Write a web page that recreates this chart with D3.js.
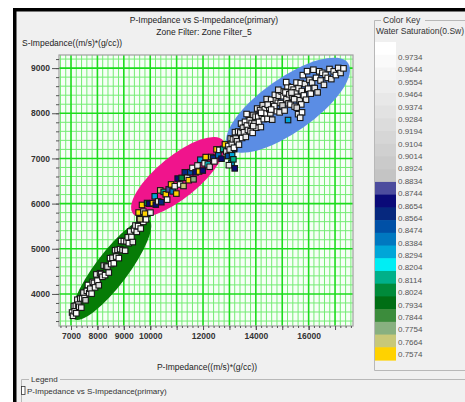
<!DOCTYPE html>
<html><head><meta charset="utf-8">
<script src="https://cdn.jsdelivr.net/npm/d3@7"></script>
<style>
html,body{margin:0;padding:0;background:#fff;}
svg{display:block;font-family:"Liberation Sans",Arial,sans-serif;}
</style></head><body>
<svg id="chart" width="465" height="402"></svg>
<script>
// ---- data ----
const chartTitle = "P-Impedance vs S-Impedance(primary)";
const zoneFilterText = "Zone Filter: Zone Filter_5";
const xAxisTitle = "P-Impedance((m/s)*(g/cc))";
const yAxisTitle = "S-Impedance((m/s)*(g/cc))";
const xTickValues = [7000, 8000, 9000, 10000, 12000, 14000, 16000];
const yTickValues = [4000, 5000, 6000, 7000, 8000, 9000];

const keyTitle = "Color Key";
const keyProperty = "Water Saturation(0.Sw)";
const keyValues = [0.9734, 0.9644, 0.9554, 0.9464, 0.9374, 0.9284, 0.9194, 0.9104, 0.9014,
  0.8924, 0.8834, 0.8744, 0.8654, 0.8564, 0.8474, 0.8384, 0.8294, 0.8204, 0.8114,
  0.8024, 0.7934, 0.7844, 0.7754, 0.7664, 0.7574];
const keyColors = ["#ffffff", "#fafafa", "#f4f4f4", "#eeeeee", "#e8e8e8", "#e2e2e2", "#dcdcdc",
  "#d6d6d6", "#d0d0d0", "#cacaca", "#c4c4c4", "#4c4c9e", "#0a0a78", "#06287e", "#0050a6",
  "#0078c0", "#00a6d8", "#00eef4", "#00b08a", "#008a3a", "#006e14", "#3c8c3c", "#88b080",
  "#c8c878", "#ffd200"];

const zoneNames = ["Zone 1", "Zone 2", "Zone 3"];
const zoneColors = ["#067c06", "#f0148c", "#5b8de4"];
// major-axis end points of each elliptical zone [P, S]
const zoneStart = [[7113, 3444], [9348, 5778], [12947, 7245]];
const zoneEnd = [[9954, 5645], [12757, 7400], [17492, 9111]];

// samples: [P-Impedance, S-Impedance, Sw]
const lowerTrendPoints = [
  [7040,3589,.96],[7075,3516,.94],[7110,3733,.97],[7140,3616,.95],[7180,3737,.92],[7200,3572,.97],
  [7240,3872,.95],[7280,3763,.96],[7310,3716,.93],[7350,3897,.97],[7390,3697,.95],[7420,3900,.96],
  [7470,4028,.94],[7510,3909,.97],[7550,3860,.90],[7600,4068,.96],[7640,4198,.97],[7690,4017,.95],
  [7730,4117,.93],[7780,4006,.96],[7820,4266,.97],[7870,4244,.94],[7910,4145,.96],[7960,4433,.95],
  [8000,4294,.97],[8050,4192,.92],[8100,4460,.96],[8140,4441,.95],[8190,4379,.97],[8240,4627,.94],
  [8290,4416,.96],[8330,4606,.97],[8380,4605,.91],[8430,4473,.95],[8480,4791,.97],[8520,4662,.96],
  [8570,4800,.93],[8620,4678,.97],[8670,4966,.95],[8710,4827,.96],[8760,4975,.94],[8810,4793,.97],
  [8860,4992,.95],[8900,5172,.96],[8950,4971,.92],[9000,5169,.97],[9050,4957,.95],[9100,5165,.96],
  [9150,5254,.94],[9190,5124,.97],[9240,5382,.95],[9290,5261,.96],[9340,5149,.93],[9390,5427,.97],
  [9440,5515,.96],[9490,5374,.95],[9540,5502,.97],[9590,5670,.94],[9640,5448,.96],[9690,5637,.89],
  [9740,5595,.97],[9790,5763,.95],[9840,5651,.96],[9880,5772,.94]
];
const middleTrendPoints = [
  [9560,5802,.7574],[9610,5654,.7664],[9690,5970,.7574],[9740,5822,.9374],[9800,5778,.7574],
  [9880,6013,.8024],[9960,5998,.8654],[10010,5800,.9554],[10100,6010,.7574],[10170,6161,.8294],
  [10210,5978,.8654],[10300,6048,.9284],[10380,6293,.7664],[10420,6031,.8564],[10510,6260,.8114],
  [10590,6206,.7574],[10640,6088,.9644],[10700,6314,.8744],[10790,6424,.7574],[10850,6270,.8384],
  [10930,6385,.9464],[10990,6222,.7574],[11040,6554,.8654],[11130,6423,.9734],[11190,6570,.8024],
  [11260,6390,.7664],[11310,6692,.8564],[11400,6572,.9194],[11460,6518,.7574],[11520,6695,.8474],
  [11600,6790,.9554],[11640,6538,.7754],[11720,6693,.8654],[11790,6844,.9374],[11850,6710,.7574],
  [11900,6972,.8294],[11990,6732,.8654],[12060,6892,.9644],[12100,7030,.7574],[12180,6865,.8204],
  [12250,6816,.9104],[12310,7032,.7664],[12380,7013,.8564],[12430,6935,.9554],[12510,7200,.7574],
  [12580,7071,.8384],[12620,7189,.9734],[12700,6994,.8654],[12760,7210,.8114],[12830,7311,.7574],
  [12880,7153,.9284],[12950,7054,.8474],[13030,7189,.8654],[13100,7070,.8294],[13180,7205,.8564],
  [13260,7330,.8384],[13080,6900,.8294],[13200,6780,.8654],[13150,6980,.8114],[12980,6850,.9464]
];
const upperTrendPoints = [
  [12960,7276,.96],[13010,7197,.93],[13050,7442,.97],[13090,7327,.95],[13130,7422,.91],[13170,7237,.97],
  [13210,7582,.94],[13240,7440,.96],[13290,7382,.92],[13330,7596,.97],[13360,7305,.95],[13410,7575,.93],
  [13440,7771,.96],[13480,7453,.97],[13510,7679,.90],[13550,7580,.95],[13590,7811,.97],[13620,7477,.94],
  [13660,7729,.96],[13700,7630,.93],[13730,7956,.97],[13770,7847,.95],[13800,7603,.96],[13840,7785,.92],
  [13880,7566,.97],[13910,7962,.94],[13950,7773,.96],[13990,7925,.95],[14020,7680,.97],[14050,8105,.93],
  [14090,7925,.96],[14120,7810,.97],[14160,8070,.94],[14190,7695,.95],[14230,7945,.97],[14260,8180,.91],
  [14300,7870,.96],[14340,8090,.95],[14370,7995,.97],[14410,8314,.93],[14440,7876,.96],[14480,8182,.97],
  [14510,8094,.94],[14550,8000,.95],[14580,8302,.97],[14620,7858,.92],[14650,8200,.96],[14690,8096,.97],
  [14720,8408,.95],[14760,8284,.93],[14790,8046,.96],[14830,8232,.97],[14870,8388,.94],[14900,8020,.95],
  [14940,8226,.97],[14980,8482,.96],[15010,8173,.90],[15050,8377,.97],[15090,8060,.95],[15120,8460,.96],
  [15160,8313,.93],[15200,8597,.97],[15240,8220,.94],[15270,8420,.96],[15310,8193,.97],[15350,8577,.95],
  [15390,8360,.92],[15430,8523,.97],[15470,8147,.96],[15500,8467,.95],[15540,8680,.97],[15580,8363,.94],
  [15620,8556,.96],[15660,8288,.93],[15700,8670,.97],[15740,8492,.95],[15780,8844,.96],[15820,8396,.97],
  [15860,8648,.94],[15900,8300,.95],[15940,8932,.97],[15980,8544,.96],[16030,8739,.93],[16080,8434,.97],
  [16130,8679,.95],[16180,8964,.96],[16230,8559,.94],[16280,8784,.97],[16340,8462,.92],[16400,8930,.96],
  [16450,8725,.95],[16520,8895,.97],[16580,8629,.94],[16640,8854,.96],[16720,8783,.97],[16790,8980,.95],
  [16860,8756,.93],[16950,8928,.96],[17030,8846,.97],[17120,9004,.95],[17210,8892,.94],[17320,8994,.96],
  [14200,8010,.97],[14450,8190,.95],[14700,8160,.96],[14850,8520,.93],[15150,8690,.97],[15450,8310,.95],
  [13650,7983,.96],[15350,8457,.94],[14580,8082,.97],[13900,7716,.95],[15720,8196,.96],[15550,8123,.91],
  [15600,7980,.93],[15750,8020,.97],[15680,7900,.95],[15220,7850,.8294]
];
const legendTitle = "Legend";
const legendEntry = "P-Impedance vs S-Impedance(primary)";

// ---- drawing ----
const svg = d3.select("#chart");
const plot = { left: 59, right: 353, top: 55, bottom: 326 };
const x = d3.scaleLinear().domain([6545, 17680]).range([plot.left, plot.right]);
const y = d3.scaleLinear().domain([3290, 9290]).range([plot.bottom, plot.top]);

// window frame
svg.append("rect").attr("x", 0).attr("y", 0).attr("width", 465).attr("height", 402).attr("fill", "#ffffff");
svg.append("rect").attr("x", 15).attr("y", 11).attr("width", 450).attr("height", 391).attr("fill", "#f0f0f0");
svg.append("rect").attr("x", 13).attr("y", 8).attr("width", 452).attr("height", 3.5).attr("fill", "#000");
svg.append("rect").attr("x", 13).attr("y", 8).attr("width", 3.5).attr("height", 394).attr("fill", "#000");

// titles
svg.append("text").attr("x", 204).attr("y", 23).attr("text-anchor", "middle")
  .attr("font-size", 8.5).attr("fill", "#222").text(chartTitle);
svg.append("text").attr("x", 204).attr("y", 35).attr("text-anchor", "middle")
  .attr("font-size", 8.5).attr("fill", "#222").text(zoneFilterText);
svg.append("text").attr("x", 22).attr("y", 46)
  .attr("font-size", 8.5).attr("fill", "#222").text(yAxisTitle);
svg.append("text").attr("x", 207).attr("y", 370).attr("text-anchor", "middle")
  .attr("font-size", 8.5).attr("fill", "#222").text(xAxisTitle);

// plot background and grid
svg.append("rect").attr("x", plot.left).attr("y", plot.top)
  .attr("width", plot.right - plot.left).attr("height", plot.bottom - plot.top).attr("fill", "#f6fff6");

const clip = svg.append("clipPath").attr("id", "plotClip");
clip.append("rect").attr("x", plot.left).attr("y", plot.top)
  .attr("width", plot.right - plot.left).attr("height", plot.bottom - plot.top);
const inner = svg.append("g").attr("clip-path", "url(#plotClip)");

const minorX = d3.range(6600, 17700, 200).filter(v => v % 1000 !== 0);
const minorY = d3.range(3400, 9300, 200).filter(v => v % 1000 !== 0);
const majorX = d3.range(7000, 17001, 1000);
const majorY = d3.range(4000, 9001, 1000);

inner.selectAll("line.minx").data(minorX).join("line").attr("class", "minx")
  .attr("x1", d => x(d)).attr("x2", d => x(d)).attr("y1", plot.top).attr("y2", plot.bottom)
  .attr("stroke", "#74ec74").attr("stroke-width", 1);
inner.selectAll("line.miny").data(minorY).join("line").attr("class", "miny")
  .attr("y1", d => y(d)).attr("y2", d => y(d)).attr("x1", plot.left).attr("x2", plot.right)
  .attr("stroke", "#74ec74").attr("stroke-width", 1);
inner.selectAll("line.majx").data(majorX).join("line").attr("class", "majx")
  .attr("x1", d => x(d)).attr("x2", d => x(d)).attr("y1", plot.top).attr("y2", plot.bottom)
  .attr("stroke", "#1bdc1b").attr("stroke-width", 1.6);
inner.selectAll("line.majy").data(majorY).join("line").attr("class", "majy")
  .attr("y1", d => y(d)).attr("y2", d => y(d)).attr("x1", plot.left).attr("x2", plot.right)
  .attr("stroke", "#1bdc1b").attr("stroke-width", 1.6);

// elliptical zones
const zoneHalfWidth = [16.5, 21, 27];
const zones = zoneNames.map((name, i) => {
  const x1 = x(zoneStart[i][0]), y1 = y(zoneStart[i][1]);
  const x2 = x(zoneEnd[i][0]), y2 = y(zoneEnd[i][1]);
  return {
    name, color: zoneColors[i],
    cx: (x1 + x2) / 2, cy: (y1 + y2) / 2,
    rx: Math.hypot(x2 - x1, y2 - y1) / 2, ry: zoneHalfWidth[i],
    angle: Math.atan2(y2 - y1, x2 - x1) * 180 / Math.PI
  };
});
inner.selectAll("ellipse.zone").data(zones).join("ellipse").attr("class", "zone")
  .attr("cx", d => d.cx).attr("cy", d => d.cy).attr("rx", d => d.rx).attr("ry", d => d.ry)
  .attr("transform", d => `rotate(${d.angle} ${d.cx} ${d.cy})`)
  .attr("fill", d => d.color);

// samples coloured by water saturation
const swColor = d3.scaleQuantize().domain([0.7529, 0.9779]).range(keyColors.slice().reverse());
const allPoints = lowerTrendPoints.concat(middleTrendPoints, upperTrendPoints);
const sq = 5.5;
inner.selectAll("rect.pt").data(allPoints).join("rect").attr("class", "pt")
  .attr("x", d => x(d[0]) - sq / 2).attr("y", d => y(d[1]) - sq / 2)
  .attr("width", sq).attr("height", sq)
  .attr("fill", d => swColor(d[2])).attr("stroke", "#161616").attr("stroke-width", 1.1);

// plot border
svg.append("rect").attr("x", plot.left).attr("y", plot.top)
  .attr("width", plot.right - plot.left).attr("height", plot.bottom - plot.top)
  .attr("fill", "none").attr("stroke", "#a0a0a0").attr("stroke-width", 1.2);

// axes
const yMinor = d3.range(3400, 9300, 200);
const gyMinor = svg.append("g").attr("transform", `translate(${plot.left},0)`)
  .call(d3.axisLeft(y).tickValues(yMinor).tickSize(3).tickFormat(""));
const gy = svg.append("g").attr("transform", `translate(${plot.left},0)`)
  .call(d3.axisLeft(y).tickValues(yTickValues).tickSize(7).tickPadding(2).tickFormat(d3.format("d")));
const xMinor = d3.range(6600, 17700, 200);
const gxMinor = svg.append("g").attr("transform", `translate(0,${plot.bottom})`)
  .call(d3.axisBottom(x).tickValues(xMinor).tickSize(2).tickFormat(""));
const gxMajor = svg.append("g").attr("transform", `translate(0,${plot.bottom})`)
  .call(d3.axisBottom(x).tickValues(majorX).tickSize(4).tickFormat(""));
const gx = svg.append("g").attr("transform", `translate(0,${plot.bottom})`)
  .call(d3.axisBottom(x).tickValues(xTickValues).tickSize(4).tickPadding(3).tickFormat(d3.format("d")));
[gyMinor, gy, gxMinor, gxMajor, gx].forEach(g => {
  g.select(".domain").remove();
  g.selectAll(".tick line").attr("stroke", "#555");
  g.selectAll(".tick text").attr("font-family", "Liberation Sans, Arial, sans-serif")
    .attr("font-size", 8.5).attr("font-weight", "bold").attr("fill", "#333");
});

// colour key panel
const keyG = svg.append("g");
keyG.append("path").attr("d", "M381,20.5 H374.5 V370.5 H465").attr("fill", "none")
  .attr("stroke", "#b8b8b8").attr("stroke-width", 1);
keyG.append("path").attr("d", "M425,20.5 H465").attr("fill", "none")
  .attr("stroke", "#b8b8b8").attr("stroke-width", 1);
keyG.append("text").attr("x", 383).attr("y", 23).attr("font-size", 8.5).attr("fill", "#333").text(keyTitle);
keyG.append("text").attr("x", 376).attr("y", 34).attr("font-size", 8.5).attr("fill", "#333").text(keyProperty);

const keyBand = d3.scaleBand().domain(keyValues).range([42, 360]).paddingInner(0);
keyG.selectAll("rect.key").data(keyValues).join("rect").attr("class", "key")
  .attr("x", 375).attr("width", 21)
  .attr("y", d => keyBand(d)).attr("height", keyBand.bandwidth() + 0.6)
  .attr("fill", (d, i) => keyColors[i]);
const keyLabelY = d3.scalePoint().domain(keyValues).range([57, 354]);
keyG.selectAll("text.keylab").data(keyValues).join("text").attr("class", "keylab")
  .attr("x", 398).attr("y", d => keyLabelY(d) + 3)
  .attr("font-size", 8).attr("fill", "#555")
  .text(d => d.toFixed(4));

// legend
const legG = svg.append("g");
legG.append("path").attr("d", "M29,379.5 H21.5 V402").attr("fill", "none").attr("stroke", "#b8b8b8");
legG.append("path").attr("d", "M60,379.5 H465").attr("fill", "none").attr("stroke", "#b8b8b8");
legG.append("text").attr("x", 31).attr("y", 382).attr("font-size", 8).attr("fill", "#333").text(legendTitle);
legG.append("rect").attr("x", 21.5).attr("y", 386.5).attr("width", 3.5).attr("height", 8)
  .attr("fill", "#fff").attr("stroke", "#333").attr("stroke-width", 0.8);
legG.append("text").attr("x", 27).attr("y", 394).attr("font-size", 8).attr("fill", "#333").text(legendEntry);
</script>
</body></html>
